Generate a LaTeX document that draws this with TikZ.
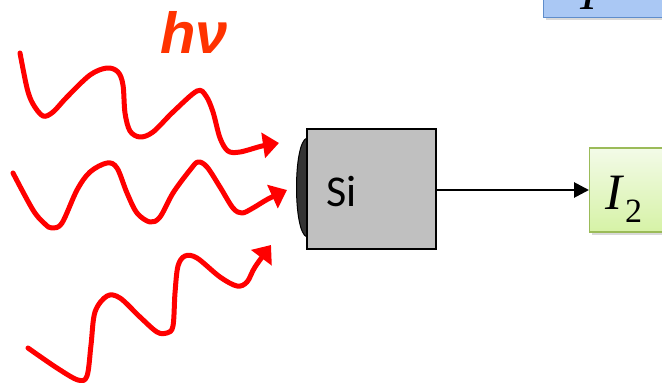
\documentclass[tikz,border=0pt]{standalone}
\usepackage{fontspec}
\setmainfont{Liberation Serif}
\newfontfamily\hvfont{Liberation Sans}
\newfontfamily\sifont{Carlito}
\usetikzlibrary{arrows.meta,shadows}
\definecolor{hvred}{HTML}{FF3300}
\definecolor{wavered}{HTML}{FF0000}
\definecolor{sigray}{HTML}{C0C0C0}
\definecolor{lensgray}{HTML}{333333}
\definecolor{gtop}{HTML}{F3FBE8}
\definecolor{gbot}{HTML}{D6F2A6}
\definecolor{gborder}{HTML}{9BBB59}
\definecolor{bfill}{HTML}{AAC8F4}
\definecolor{bborder}{HTML}{5F8DCB}
\tikzset{
  wave/.style={draw=wavered, line width=5pt, line cap=round, line join=round,
    -{Triangle[length=16pt,width=25pt]}},
  sibox/.style={draw=black, line width=1.8pt, fill=sigray, minimum width=129pt, minimum height=120pt, inner sep=0pt},
  outbox/.style={draw=gborder, line width=1.2pt, top color=gtop, bottom color=gbot,
    minimum width=120pt, minimum height=84pt, inner sep=0pt,
    drop shadow={opacity=0.3, shadow xshift=2.5pt, shadow yshift=-2.5pt}},
  bluebox/.style={draw=bborder, line width=1.2pt, fill=bfill,
    minimum width=160pt, minimum height=80pt, inner sep=0pt,
    drop shadow={opacity=0.3, shadow xshift=2.5pt, shadow yshift=-2.5pt}},
  conn/.style={draw=black, line width=2.8pt, -{Triangle[length=15pt,width=15pt]}}
}
\begin{document}
\begin{tikzpicture}[x=1pt,y=-1pt]
\useasboundingbox (0,0) rectangle (662,383);
% top blue box (cropped)
\node[bluebox, anchor=south west] (topbox) at (543,18) {};
\node[anchor=base, inner sep=0pt, font=\fontsize{50}{50}\selectfont] (toplabel) at (589.5,9) {\textit{I}};
% hv label
\node[anchor=base west, inner sep=0pt, text=hvred, font=\hvfont\bfseries\itshape\fontsize{58}{58}\selectfont] (hv) at (160,53) {hν};
% waves
\draw[wave] plot[smooth, tension=0.55] coordinates {(20,53) (27,88) (33,104) (43,116) (53,112) (67,97) (90,75) (107,68) (118,72) (123,85) (125,113) (130,131) (140,137) (153,132) (173,112) (197,91) (206,96) (213,112) (220,138) (228,151) (240,152) (262,146) (279,143)};
\draw[wave] plot[smooth, tension=0.55] coordinates {(13,173) (33,210) (45,224) (52,228) (62,223) (77,190) (90,172) (107,163) (117,168) (127,193) (137,213) (150,222) (160,217) (173,193) (190,170) (198,162) (207,167) (220,187) (233,208) (242,213) (253,208) (268,199) (287,190)};
\draw[wave] plot[smooth, tension=0.55] coordinates {(28,348) (57,368) (78,380) (87,376) (91,345) (95,312) (107,296) (120,298) (140,317) (157,332) (167,333) (173,326) (175,293) (178,266) (185,256) (197,258) (220,277) (237,286) (247,282) (255,267) (271,245)};
% lens and Si box
\fill[lensgray, draw=black, line width=1pt] (307,138) .. controls (293,142) and (293,233) .. (307,237) -- cycle;
\node[sibox] (si) at (371.5,189) {};
\node[anchor=base west, inner sep=0pt, font=\sifont\fontsize{44}{44}\selectfont] (silabel) at (326,206) {Si};
% output box
\node[outbox, anchor=west] (out) at (589,190) {};
\node[anchor=base west, inner sep=0pt, font=\fontsize{51}{51}\selectfont] (outlabel) at (605,209) {\textit{I}\kern1pt\raisebox{-13pt}{\fontsize{34}{34}\selectfont 2}};
% connector
\draw[conn] (si.east |- 0,190) -- (out.west);
\end{tikzpicture}
\end{document}
